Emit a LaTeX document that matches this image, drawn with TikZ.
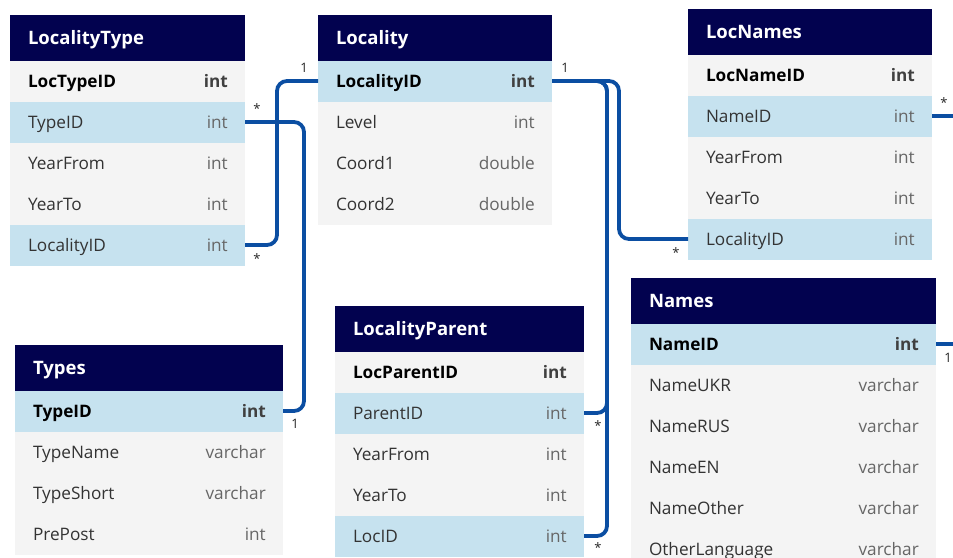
\documentclass[tikz,border=0pt]{standalone}
\usepackage{fontspec}
\setmainfont{Open Sans}
\usetikzlibrary{positioning}
\definecolor{head}{HTML}{02024F}
\definecolor{keyrow}{HTML}{C6E2EF}
\definecolor{plainrow}{HTML}{F4F4F4}
\definecolor{link}{HTML}{0B4EA2}
\definecolor{nametxt}{HTML}{333333}
\definecolor{typetxt}{HTML}{666666}
\tikzset{tab/.style={},
hd/.style={tab,anchor=north west,fill=head,text=white,minimum height=45.5,inner xsep=18pt,inner ysep=0pt,outer sep=0pt,align=left,text height=14pt,text depth=1pt,font=\bfseries\fontsize{18.5}{21}\selectfont},
fld/.style={tab,minimum height=41,inner xsep=18pt,inner ysep=0pt,outer sep=0pt,align=left,fill=plainrow,text=nametxt,text height=14pt,text depth=1pt,font=\fontsize{17.2}{20}\selectfont},
fk/.style={fld,fill=keyrow},
pk/.style={fld,text=black,font=\bfseries\fontsize{17.2}{20}\selectfont},
pkb/.style={pk,fill=keyrow},
typ/.style={anchor=east,xshift=-17pt,inner sep=0pt,text=typetxt,text height=14pt,text depth=1pt,font=\fontsize{17.2}{20}\selectfont},
typb/.style={typ,text=black!75,font=\bfseries\fontsize{17.2}{20}\selectfont},
rel/.style={draw=link,line width=3.8pt,rounded corners=10pt},
card/.style={inner sep=0pt,text=black!85,font=\fontsize{13}{15}\selectfont}}
\begin{document}
\begin{tikzpicture}[x=1pt,y=-1pt]
\useasboundingbox (0,0) rectangle (953,557);
\clip (0,0) rectangle (953,557);
% LocalityType
\begin{scope}[tab/.style={text width=199pt}]
\node[hd] (lt) at (10,15) {LocalityType};
\node[pk,below=0pt of lt,label={[typb]east:int}] (ltLocTypeID) {LocTypeID};
\node[fk,below=0pt of ltLocTypeID,label={[typ]east:int}] (ltTypeID) {TypeID};
\node[fld,below=0pt of ltTypeID,label={[typ]east:int}] (ltYearFrom) {YearFrom};
\node[fld,below=0pt of ltYearFrom,label={[typ]east:int}] (ltYearTo) {YearTo};
\node[fk,below=0pt of ltYearTo,label={[typ]east:int}] (ltLocalityID) {LocalityID};
\end{scope}
% Locality
\begin{scope}[tab/.style={text width=198pt}]
\node[hd] (loc) at (318,15) {Locality};
\node[pkb,below=0pt of loc,label={[typb]east:int}] (locLocalityID) {LocalityID};
\node[fld,below=0pt of locLocalityID,label={[typ]east:int}] (locLevel) {Level};
\node[fld,below=0pt of locLevel,label={[typ]east:double}] (locCoord1) {Coord1};
\node[fld,below=0pt of locCoord1,label={[typ]east:double}] (locCoord2) {Coord2};
\end{scope}
% LocNames
\begin{scope}[tab/.style={text width=208pt}]
\node[hd] (ln) at (688,9) {LocNames};
\node[pk,below=0pt of ln,label={[typb]east:int}] (lnLocNameID) {LocNameID};
\node[fk,below=0pt of lnLocNameID,label={[typ]east:int}] (lnNameID) {NameID};
\node[fld,below=0pt of lnNameID,label={[typ]east:int}] (lnYearFrom) {YearFrom};
\node[fld,below=0pt of lnYearFrom,label={[typ]east:int}] (lnYearTo) {YearTo};
\node[fk,below=0pt of lnYearTo,label={[typ]east:int}] (lnLocalityID) {LocalityID};
\end{scope}
% Types
\begin{scope}[tab/.style={text width=232pt}]
\node[hd] (ty) at (15,345) {Types};
\node[pkb,below=0pt of ty,label={[typb]east:int}] (tyTypeID) {TypeID};
\node[fld,below=0pt of tyTypeID,label={[typ]east:varchar}] (tyTypeName) {TypeName};
\node[fld,below=0pt of tyTypeName,label={[typ]east:varchar}] (tyTypeShort) {TypeShort};
\node[fld,below=0pt of tyTypeShort,label={[typ]east:int}] (tyPrePost) {PrePost};
\end{scope}
% LocalityParent
\begin{scope}[tab/.style={text width=213pt}]
\node[hd] (lp) at (335,306) {LocalityParent};
\node[pk,below=0pt of lp,label={[typb]east:int}] (lpLocParentID) {LocParentID};
\node[fk,below=0pt of lpLocParentID,label={[typ]east:int}] (lpParentID) {ParentID};
\node[fld,below=0pt of lpParentID,label={[typ]east:int}] (lpYearFrom) {YearFrom};
\node[fld,below=0pt of lpYearFrom,label={[typ]east:int}] (lpYearTo) {YearTo};
\node[fk,below=0pt of lpYearTo,label={[typ]east:int}] (lpLocID) {LocID};
\end{scope}
% Names
\begin{scope}[tab/.style={text width=269pt}]
\node[hd] (nm) at (631,278) {Names};
\node[pkb,below=0pt of nm,label={[typb]east:int}] (nmNameID) {NameID};
\node[fld,below=0pt of nmNameID,label={[typ]east:varchar}] (nmNameUKR) {NameUKR};
\node[fld,below=0pt of nmNameUKR,label={[typ]east:varchar}] (nmNameRUS) {NameRUS};
\node[fld,below=0pt of nmNameRUS,label={[typ]east:varchar}] (nmNameEN) {NameEN};
\node[fld,below=0pt of nmNameEN,label={[typ]east:varchar}] (nmNameOther) {NameOther};
\node[fld,below=0pt of nmNameOther,label={[typ]east:varchar}] (nmOtherLanguage) {OtherLanguage};
\end{scope}
% relations
\draw[rel] (ltLocalityID.east) node[card,shift={(12,14)}] {*} -- ++(32,0) |- (locLocalityID.west) node[card,shift={(-14,-13)}] {1};
\draw[rel] (ltTypeID.east) node[card,shift={(12,-13)}] {*} -- ++(59,0) |- (tyTypeID.east) node[card,shift={(12,13)}] {1};
\draw[rel] (locLocalityID.east) node[card,shift={(13,-13)}] {1} -- ++(67,0) |- (lnLocalityID.west) node[card,shift={(-12,14)}] {*};
\draw[rel] (locLocalityID.east) -- ++(55,0) |- (lpParentID.east) node[card,shift={(14,13)}] {*};
\draw[rel] (locLocalityID.east) -- ++(55,0) |- (lpLocID.east) node[card,shift={(14,12)}] {*};
\draw[rel] (lnNameID.east) node[card,shift={(12,-13)}] {*} -- ++(43,0) |- (nmNameID.east) node[card,shift={(12,14)}] {1};
\end{tikzpicture}
\end{document}
